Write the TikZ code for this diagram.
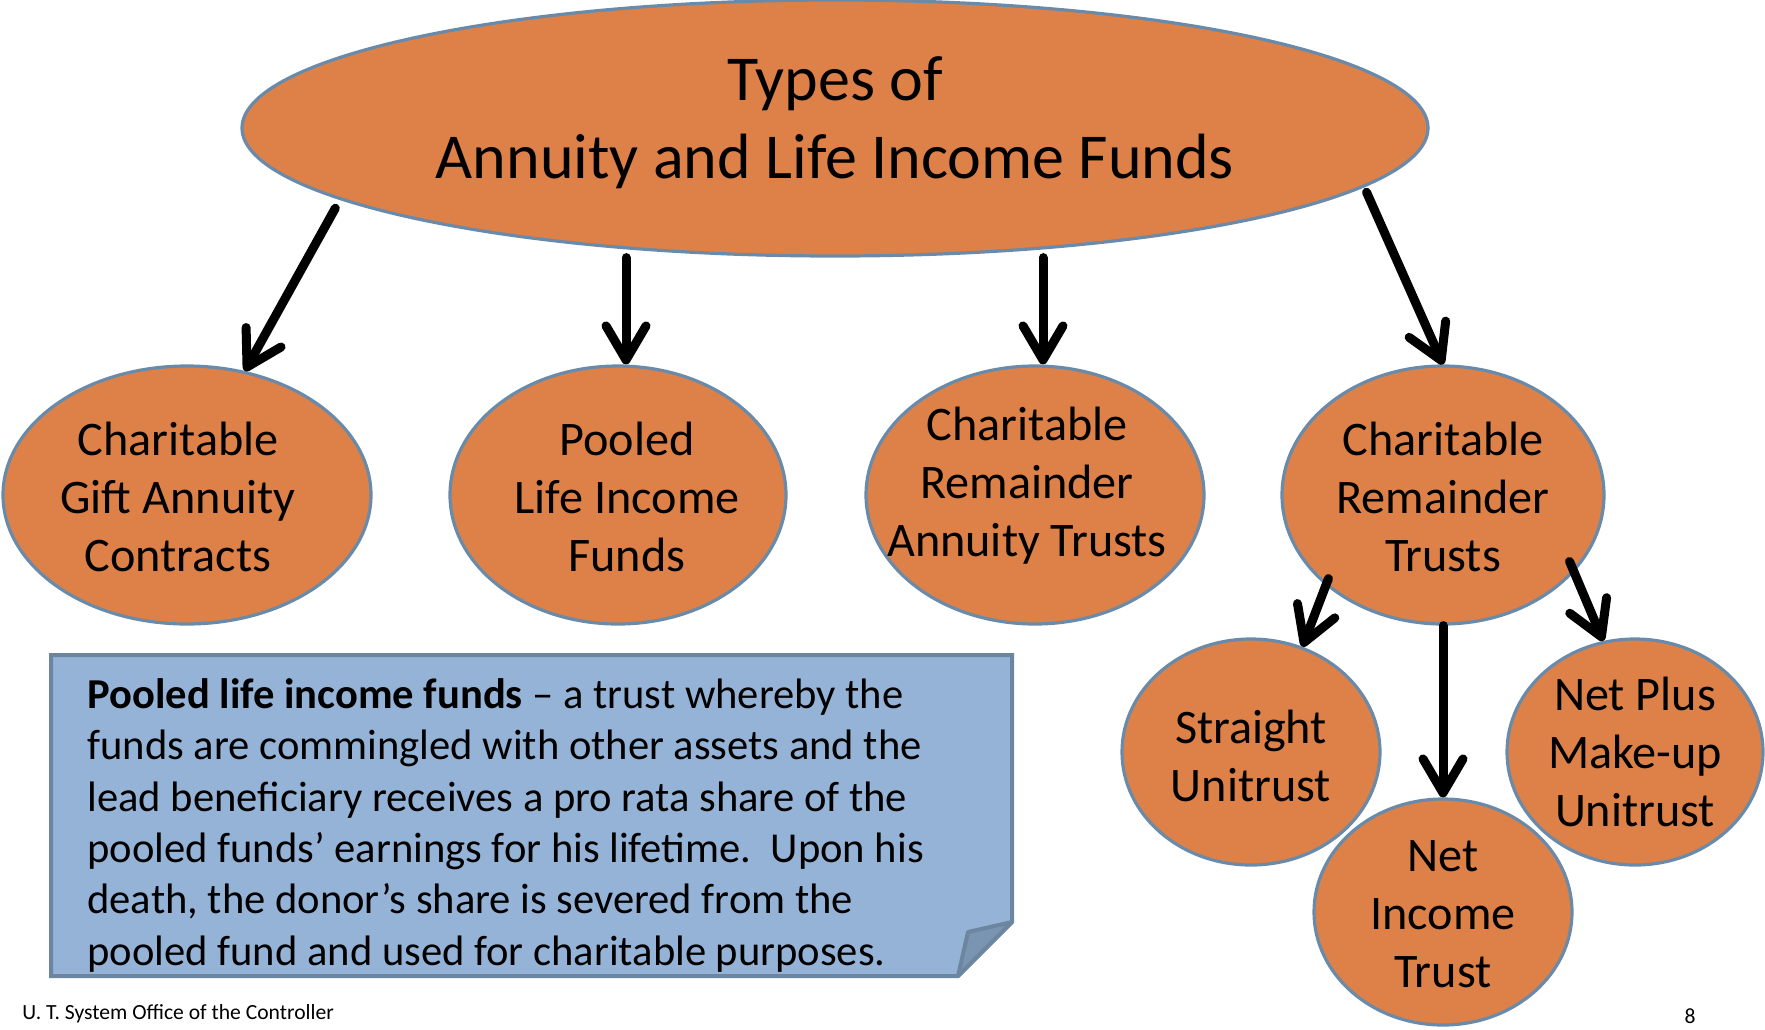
\documentclass[tikz,border=0pt]{standalone}
\usepackage{fontspec}
\setmainfont{Carlito}
\usepackage{tikz}
\usetikzlibrary{shapes.geometric}
\usetikzlibrary{arrows.meta}

\definecolor{ovalfill}{RGB}{221,129,72}
\definecolor{ovaledge}{RGB}{106,138,170}
\definecolor{notefill}{RGB}{149,179,215}
\definecolor{noteedge}{RGB}{108,134,160}
\definecolor{notefold}{RGB}{122,149,177}

\tikzset{
  oval/.style={ellipse, draw=ovaledge, fill=ovalfill, line width=1.6pt, inner sep=0pt},
  ovaltext/.style={align=center, yshift=-1pt, font=\fontsize{24.1}{29}\selectfont},
  arr/.style={line width=4.5pt, line cap=round, -{Straight Barb[length=17pt,width=20pt,round]}},
}

\begin{document}
\begin{tikzpicture}[x=0.5pt,y=-0.5pt]
\useasboundingbox (0,0) rectangle (1765,1029);
%\draw[help lines, step=100] (0,0) grid (1765,1029);
\node[oval, minimum width=593pt, minimum height=128pt,
  label={[align=center, font=\fontsize{32}{39}\selectfont, yshift=2.5pt]center:Types of\\Annuity and Life Income Funds}] (types) at (835,128) {};
\node[oval, minimum width=184pt, minimum height=129pt, label={[ovaltext, xshift=-4.5pt]center:Charitable\\Gift Annuity\\Contracts}] (gift) at (187,495) {};
\node[oval, minimum width=168pt, minimum height=129pt, label={[ovaltext, xshift=4.5pt]center:Pooled\\Life Income\\Funds}] (pooled) at (618,495) {};
\node[oval, minimum width=169pt, minimum height=129pt, label={[ovaltext, xshift=-4pt, yshift=5.5pt]center:Charitable\\Remainder\\Annuity Trusts}] (crat) at (1035,495) {};
\node[oval, minimum width=161pt, minimum height=129pt, label={[ovaltext]center:Charitable\\Remainder\\Trusts}] (crt) at (1443,495) {};
\node[oval, minimum width=129pt, minimum height=113pt, label={[ovaltext, yshift=-1pt]center:Straight\\Unitrust}] (straight) at (1251,752) {};
\node[oval, minimum width=129pt, minimum height=113pt, label={[ovaltext]center:Net\\Income\\Trust}] (netinc) at (1443,912) {};
\node[oval, minimum width=128pt, minimum height=113pt, label={[ovaltext, yshift=1pt]center:Net Plus\\Make-up\\Unitrust}] (netplus) at (1635,752) {};

\draw[arr] ([yshift=-5pt]types.188) -- (gift.65);
\draw[arr] ([xshift=4pt]pooled.north |- types.south) -- ([xshift=4pt]pooled.north);
\draw[arr] ([xshift=4pt]crat.north |- types.south) -- ([xshift=4pt]crat.north);
\draw[arr] ([shift={(-2pt,-4pt)}]types.354) -- (crt.north);
\draw[arr] ([shift={(3pt,2pt)}]crt.216) -- (straight.64);
\draw[arr] (crt.south) -- (netinc.north);
\draw[arr] ([shift={(-4.5pt,2.8pt)}]crt.-28) -- (netplus.106);

% note with folded corner
\draw[noteedge, fill=notefill, line width=2pt] (51,655) -- (1012,655) -- (1012,922) -- (958,976) -- (51,976) -- cycle;
\draw[noteedge, fill=notefold, line width=2pt, line join=round] (1012,922) -- (968,932) -- (958,976) -- cycle;
\node[align=left, inner sep=0pt, anchor=north west, font=\fontsize{21.3}{25.7}\selectfont] (note) at (87,678)
  {\textbf{Pooled life income funds} – a trust whereby the\\
   funds are commingled with other assets and the\\
   lead beneficiary receives a pro rata share of the\\
   pooled funds’ earnings for his lifetime.\ \ Upon his\\
   death, the donor’s share is severed from the\\
   pooled fund and used for charitable purposes.};

\node[anchor=west, inner sep=0pt, font=\fontsize{10.8}{13}\selectfont] (footer) at (22,1014) {U. T. System Office of the Controller};
\node[inner sep=0pt, font=\fontsize{10.8}{13}\selectfont] (pagenum) at (1690,1016) {8};
\end{tikzpicture}
\end{document}
